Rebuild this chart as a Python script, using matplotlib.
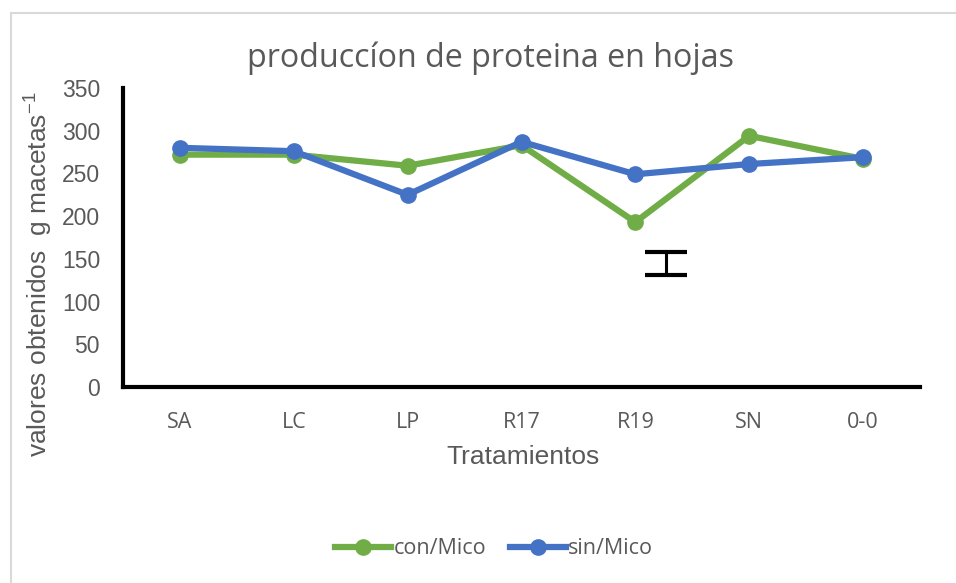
import matplotlib
matplotlib.use("Agg")
import matplotlib.pyplot as plt
from matplotlib.lines import Line2D

categories = ["SA", "LC", "LP", "R17", "R19", "SN", "0-0"]
con_mico = [272, 272, 259, 283, 193, 294, 267]
sin_mico = [280, 276, 225, 287, 249, 261, 269]
err_x = 4.27
err_center = 145
err_half = 13.5

green = "#70AD47"
blue = "#4472C4"
gray = "#595959"

fig = plt.figure(figsize=(9.56, 5.83), dpi=100)
ax = fig.add_axes([123/956, 1-387/583, (920-123)/956, (387-88)/583])

x = list(range(len(categories)))
ax.plot(x, con_mico, color=green, lw=4.5, marker="o", ms=11, label="con/Mico", zorder=3)
ax.plot(x, sin_mico, color=blue, lw=4.5, marker="o", ms=11, label="sin/Mico", zorder=4)
ax.errorbar([err_x], [err_center], yerr=[[err_half], [err_half]], fmt="none",
            ecolor="black", elinewidth=2.2, capsize=15, capthick=3, zorder=5)

ax.set_xlim(-0.5, 6.5)
ax.set_ylim(0, 350)
ax.set_yticks(range(0, 351, 50))
ax.set_xticks(x)
ax.set_xticklabels(categories, fontfamily="Open Sans", fontsize=15.5, color=gray)
for lab in ax.get_yticklabels():
    lab.set_fontfamily("Liberation Sans")
    lab.set_fontsize(16.5)
    lab.set_color(gray)
ax.tick_params(axis="both", length=0)
ax.tick_params(axis="x", pad=18)
ax.tick_params(axis="y", pad=16.5)
for s in ["top", "right"]:
    ax.spines[s].set_visible(False)
for s in ["left", "bottom"]:
    ax.spines[s].set_linewidth(3)
    ax.spines[s].set_color("black")

fig.text(491/956, 1-58/583, "producc\u00edon de proteina en hojas", ha="center", va="center",
         fontfamily="Open Sans", fontsize=23.2, color=gray)
fig.text(523/956, 1-457/583, "Tratamientos", ha="center", va="center",
         fontfamily="Liberation Sans", fontsize=19, color=gray)
fig.text(38/956, 1-274/583, "valores obtenidos  g macetas$^{\\mathregular{-1}}$", ha="center", va="center",
         rotation=90, fontfamily="Liberation Sans", fontsize=19, color=gray)

handles = [Line2D([0], [0], color=green, lw=4.5, marker="o", ms=11),
           Line2D([0], [0], color=blue, lw=4.5, marker="o", ms=11)]
fig.legend(handles, ["con/Mico", "sin/Mico"], loc="center", bbox_to_anchor=(494/956, 1-549/583),
           ncol=2, frameon=False, handlelength=2.6, handletextpad=0.1, columnspacing=1.1,
           prop={"family": "Open Sans", "size": 15.5}, labelcolor=gray)

# figure border (top and left visible)
fig.add_artist(Line2D([11/956, 11/956], [0, 1-13/583], transform=fig.transFigure, color="#D9D9D9", lw=1.5))
fig.add_artist(Line2D([11/956, 1], [1-13/583, 1-13/583], transform=fig.transFigure, color="#D9D9D9", lw=1.5))

fig.savefig("out.png", dpi=100)
